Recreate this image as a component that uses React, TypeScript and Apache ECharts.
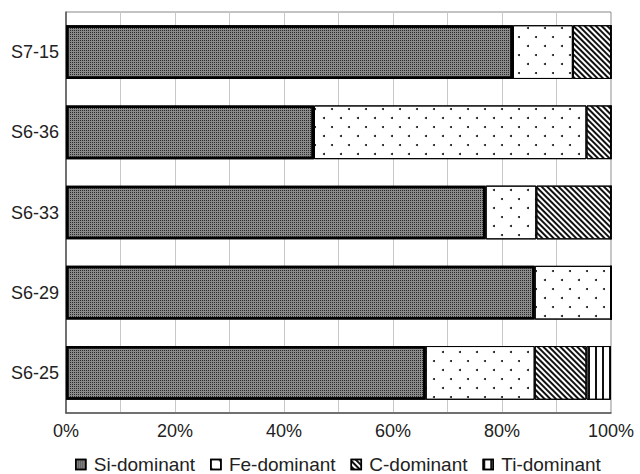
import React, { useEffect, useRef } from "react";
import * as echarts from "echarts";

const categories = ["S6-25", "S6-29", "S6-33", "S6-36", "S7-15"];
const seriesNames = ["Si-dominant", "Fe-dominant", "C-dominant", "Ti-dominant"];
const siValues = [66, 86, 77, 45.5, 82];
const feValues = [20, 14, 9.3, 50, 11];
const cValues = [9.5, 0, 13.7, 4.5, 7];
const tiValues = [4.5, 0, 0, 0, 0];
const xTicks = [0, 20, 40, 60, 80, 100];

const FONT = "Liberation Sans, Arial, sans-serif";

export default function App() {
  const ref = useRef<HTMLDivElement>(null);
  useEffect(() => {
    if (!ref.current) return;
    const chart = echarts.init(ref.current, null, { renderer: "svg" });

    const styles: any[] = [
      {
        color: "#8a8a8a",
        borderColor: "#000",
        borderWidth: 2.5,
        decal: {
          symbol: "rect",
          symbolSize: 1,
          color: "#2a2a2a",
          dashArrayX: [1, 1],
          dashArrayY: [1, 1],
        },
      },
      {
        color: "#ffffff",
        borderColor: "#000",
        borderWidth: 1,
        decal: {
          symbol: "circle",
          symbolSize: 1,
          color: "#111",
          dashArrayX: [[1.6, 14.4], [0, 8, 1.6, 6.4]],
          dashArrayY: [1.6, 6.4],
        },
      },
      {
        color: "#ffffff",
        borderColor: "#000",
        borderWidth: 1,
        decal: {
          symbol: "rect",
          symbolSize: 1,
          color: "#111",
          dashArrayX: [1, 0],
          dashArrayY: [1.3, 1.6],
          rotation: Math.PI / 4,
        },
      },
      {
        color: "#ffffff",
        borderColor: "#000",
        borderWidth: 1,
        decal: {
          symbol: "rect",
          symbolSize: 1,
          color: "#111",
          dashArrayX: [1.5, 5],
          dashArrayY: [1, 0],
        },
      },
    ];
    const values = [siValues, feValues, cValues, tiValues];

    chart.setOption({
      animation: false,
      textStyle: { fontFamily: FONT },
      grid: {
        left: 66,
        right: 29,
        top: 12,
        bottom: 61,
        show: true,
        borderColor: "#888",
        borderWidth: 1,
        backgroundColor: "transparent",
      },
      legend: {
        data: seriesNames,
        left: 75,
        top: 454,
        padding: 0,
        itemWidth: 10,
        itemHeight: 10,
        itemGap: 15,
        icon: "rect",
        itemStyle: { borderColor: "#000", borderWidth: 1.5 },
        textStyle: { fontSize: 19, lineHeight: 21, color: "#222", fontFamily: FONT, padding: [0, 0, 0, 3] },
      },
      xAxis: {
        type: "value",
        min: 0,
        max: 100,
        interval: 10,
        axisLine: { show: true, lineStyle: { color: "#555", width: 1.5 } },
        axisTick: { show: false },
        axisLabel: {
          fontSize: 18,
          color: "#222",
          margin: 9,
          fontFamily: FONT,
          formatter: (v: number) => (xTicks.includes(v) ? v + "%" : ""),
        },
        splitLine: { show: true, lineStyle: { color: "#c8c8c8", width: 1 } },
      },
      yAxis: {
        type: "category",
        data: categories,
        axisLine: { show: true, lineStyle: { color: "#555", width: 1.5 } },
        axisTick: { show: false },
        axisLabel: { fontSize: 18, color: "#222", margin: 7, fontFamily: FONT },
        splitLine: { show: false },
      },
      series: seriesNames.map((name, i) => ({
        name,
        type: "bar",
        stack: "total",
        barCategoryGap: "33%",
        itemStyle: styles[i],
        emphasis: { disabled: true },
        data: values[i],
      })),
    });

    return () => chart.dispose();
  }, []);

  return <div ref={ref} style={{ width: 640, height: 474, position: "absolute", left: 0, top: 0 }} />;
}
